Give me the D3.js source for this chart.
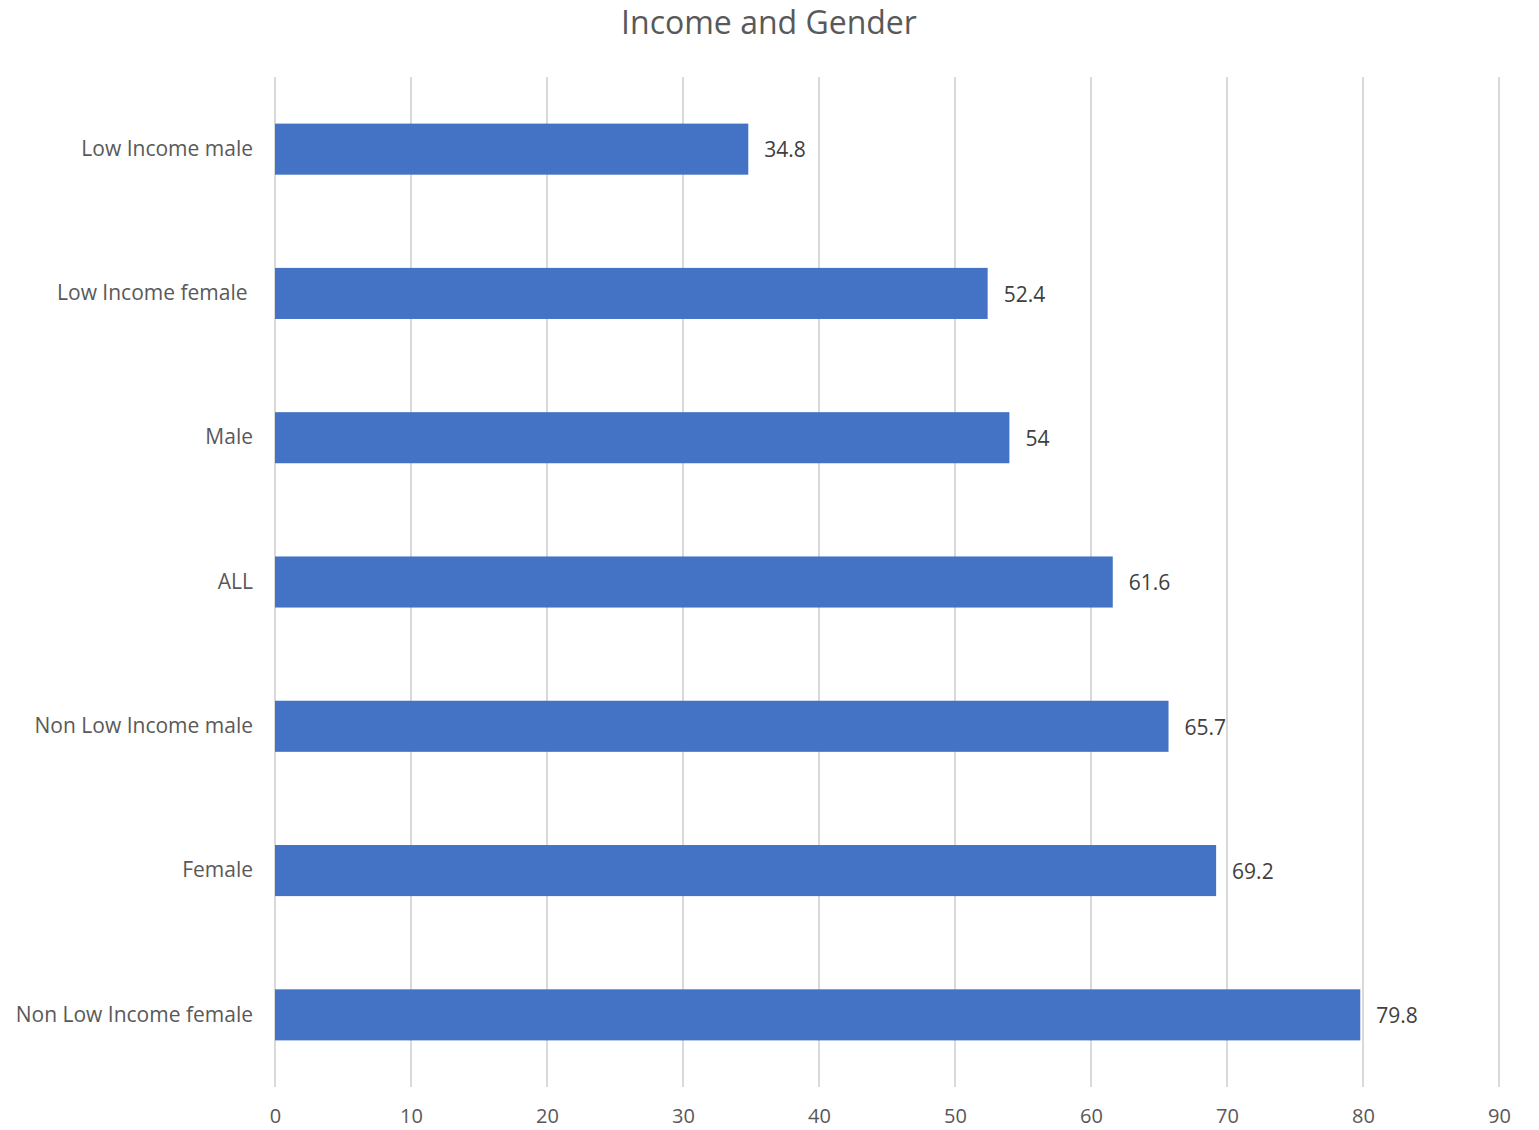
<!DOCTYPE html>
<html>
<head>
<meta charset="utf-8">
<script src="https://cdn.jsdelivr.net/npm/d3@7"></script>
<style>
  body { margin: 0; background: #fff; overflow: hidden; }
  svg { display: block; font-family: "Open Sans", "Noto Sans", sans-serif; }
</style>
</head>
<body>
<svg id="chart"></svg>
<script>
const categories = ['Low Income male', 'Low Income female ', 'Male', 'ALL', 'Non Low Income male', 'Female', 'Non Low Income female'];
const values = [34.8, 52.4, 54, 61.6, 65.7, 69.2, 79.8];
const xTicks = [0, 10, 20, 30, 40, 50, 60, 70, 80, 90];
const data = categories.map((c, i) => ({ k: c, v: values[i] }));

// plot area
const W = 1539, H = 1130;
const margin = { top: 77, right: 40, bottom: 43, left: 275 };
const width = W - margin.left - margin.right;
const height = H - margin.top - margin.bottom;

const x = d3.scaleLinear().domain([0, 90]).range([0, width]);
const y = d3.scaleBand().domain(categories).range([0, height]).paddingInner(0.646).paddingOuter(0.323);

const svg = d3.select('#chart').attr('width', W).attr('height', H);

svg.append('text')
  .attr('x', 769).attr('y', 34)
  .attr('text-anchor', 'middle')
  .attr('fill', '#595959')
  .style('font-size', '32px')
  .text('Income and Gender');

const chart = svg.append('g').attr('transform', `translate(${margin.left}, ${margin.top})`);

// gridlines
chart.append('g')
  .selectAll('line')
  .data(xTicks)
  .enter()
  .append('line')
  .attr('x1', d => x(d)).attr('x2', d => x(d))
  .attr('y1', 0).attr('y2', height)
  .attr('stroke', '#d9d9d9').attr('stroke-width', 2);

// x axis
const xAxis = d3.axisBottom(x).tickValues(xTicks).tickSize(0).tickPadding(22);
chart.append('g')
  .attr('transform', `translate(0, ${height})`)
  .call(xAxis)
  .call(g => g.select('.domain').remove())
  .call(g => g.selectAll('text').attr('fill', '#595959').style('font-size', '20px').style('font-family', '"Open Sans", sans-serif'));

// y axis
const yAxis = d3.axisLeft(y).tickSize(0).tickPadding(22);
chart.append('g')
  .call(yAxis)
  .call(g => g.select('.domain').remove())
  .call(g => g.selectAll('text').attr('fill', '#595959').style('font-size', '21px').style('font-family', '"Open Sans", sans-serif').style('white-space', 'pre'));

// bars
chart.selectAll('rect.bar')
  .data(data)
  .enter()
  .append('rect')
  .attr('class', 'bar')
  .attr('x', x(0))
  .attr('y', d => y(d.k))
  .attr('width', d => x(d.v) - x(0))
  .attr('height', y.bandwidth())
  .attr('fill', '#4472c4');

// value labels
chart.selectAll('text.val')
  .data(data)
  .enter()
  .append('text')
  .attr('class', 'val')
  .attr('x', d => x(d.v) + 16)
  .attr('y', d => y(d.k) + y.bandwidth() / 2 + 1)
  .attr('dy', '0.35em')
  .attr('fill', '#404040')
  .style('font-size', '21px')
  .text(d => d.v);
</script>
</body>
</html>
